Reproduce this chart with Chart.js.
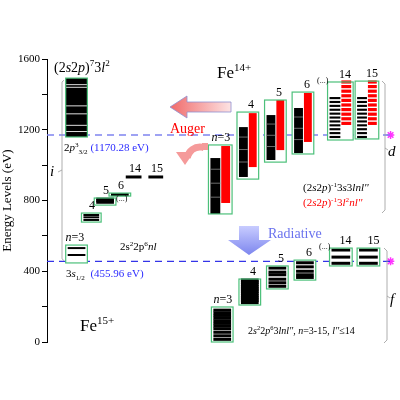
<!DOCTYPE html>
<html><head><meta charset="utf-8">
<script src="https://cdn.jsdelivr.net/npm/chart.js@4.4.1/dist/chart.umd.min.js"></script>
<style>html,body{margin:0;background:#fff}#wrap{width:400px;height:400px}</style>
</head><body><div id="wrap"><canvas id="c"></canvas></div>
<script>
// y ticks
const yTicks = [0, 400, 800, 1200, 1600];
const augerThreshold = 1170.28;
const radThreshold = 455.96;

// Fe15+ initial levels: [x0, x1, lo, hi]
const fe15Labels = ['n=3', '4', '5', '6', '14', '15'];
const fe15Boxes = [[66, 88, 447, 548], [82, 102, 678, 729], [95, 117, 774, 814], [110, 132, 825, 842]];
const fe15Lines = [[492, 531], [690, 705, 718], [790, 800, 808], [833], [933], [933]];
const fe15LineX = [[66, 88], [82, 102], [95, 117], [110, 132], [125, 145], [148, 167]];
const coreBox = [66, 88, 1159, 1492];
const coreGaps = [1455, 1440, 1335, 1290, 1225, 1190];

// Fe14+ doubly excited: box, black band, red band
const fe14Labels = ['n=3', '4', '5', '6', '14', '15'];
const fe14Boxes = [[211, 235, 724, 1114], [240, 262, 921, 1300], [268, 290, 1017, 1368], [296, 318, 1063, 1413], [332, 358, 1142, 1470], [360, 384, 1148, 1475]];
const fe14Black = [[724, 1040], [933, 1215], [1029, 1283], [1068, 1323], [1153, 1385], [1153, 1385]];
const fe14Red = [[786, 1108], [989, 1294], [1085, 1368], [1131, 1408], [1227, 1470], [1227, 1470]];
const fe14Striped = [false, false, false, false, true, true];

// Fe15+ after radiative decay
const radLabels = ['n=3', '4', '5', '6', '14', '15'];
const radBoxes = [[214, 236, 0, 198], [242, 264, 209, 356], [270, 292, 300, 430], [298, 320, 350, 463], [334, 357, 430, 531], [362, 385, 430, 531]];
const radLines = [
  [15, 35, 55, 75, 90, 105, 120, 135, 150, 165, 180],
  [225, 238, 250, 262, 275, 288, 300, 312, 325, 338, 348],
  [315, 335, 355, 380, 395, 418],
  [365, 380, 400, 425, 448],
  [445, 480, 520],
  [445, 480, 520]
];

const GREEN = '#4cc07a', SERIF = '"Liberation Serif", "DejaVu Serif", serif';

function rich(ctx, x, y, segs, size, color) {
  let cx = x;
  ctx.textAlign = 'left';
  for (const s of segs) {
    const fs = s.sup || s.sub ? size * 0.65 : size;
    ctx.font = (s.i ? 'italic ' : '') + fs + 'px ' + SERIF;
    ctx.fillStyle = s.c || color || '#000';
    const dy = s.sup ? -size * 0.4 : s.sub ? size * 0.25 : 0;
    ctx.fillText(s.t, cx, y + dy);
    cx += ctx.measureText(s.t).width;
  }
}
function T(t, o) { return Object.assign({t}, o || {}); }

const diagram = {
  id: 'diagram',
  afterDatasetsDraw(chart) {
    const {ctx, scales: {x, y}} = chart;
    const X = v => x.getPixelForValue(v), Y = v => y.getPixelForValue(v);
    const rect = (x0, x1, lo, hi, fill) => { ctx.fillStyle = fill; ctx.fillRect(X(x0), Y(hi), X(x1) - X(x0), Y(lo) - Y(hi)); };
    const frame = (b) => { ctx.strokeStyle = GREEN; ctx.lineWidth = 1.2; ctx.strokeRect(X(b[0]), Y(b[3]), X(b[1]) - X(b[0]), Y(b[2]) - Y(b[3])); };
    const hline = (x0, x1, e, col, w) => { ctx.strokeStyle = col; ctx.lineWidth = w; ctx.beginPath(); ctx.moveTo(X(x0), Y(e)); ctx.lineTo(X(x1), Y(e)); ctx.stroke(); };
    ctx.save();
    ctx.textBaseline = 'alphabetic';

    // core-excited box
    rect(coreBox[0], coreBox[1], coreBox[2], coreBox[3], '#000');
    coreGaps.forEach(e => hline(coreBox[0], coreBox[1], e, '#ddd', 1));
    frame(coreBox);

    // Fe15+ initial
    fe15Boxes.forEach(b => { rect(b[0], b[1], b[2], b[3], '#fff'); });
    fe15Lines.forEach((ls, i) => ls.forEach(e => hline(fe15LineX[i][0] + 2, fe15LineX[i][1] - 2, e, '#000', i >= 2 ? 3 : 2)));
    fe15Boxes.forEach(frame);

    // Fe14+
    fe14Boxes.forEach((b, i) => {
      const mid = (b[0] + b[1]) / 2;
      rect(b[0], b[1], b[2], b[3], '#fff');
      if (fe14Striped[i]) {
        for (let e = fe14Black[i][0]; e < fe14Black[i][1]; e += 22) rect(b[0] + 2, mid, e, e + 12, '#000');
        for (let e = fe14Red[i][0]; e < fe14Red[i][1]; e += 26) rect(mid + 1, b[1] - 2, e, e + 18, '#f00');
      } else {
        rect(b[0] + 2, mid, fe14Black[i][0], fe14Black[i][1], '#000');
        rect(mid + 1, b[1] - 2, fe14Red[i][0], fe14Red[i][1], '#f00');
        [0.3, 0.55, 0.8].forEach(f => hline(b[0] + 2, mid, fe14Black[i][0] + f * (fe14Black[i][1] - fe14Black[i][0]), '#888', 0.8));
      }
      frame(b);
    });

    // radiative
    radBoxes.forEach((b, i) => {
      rect(b[0], b[1], b[2], b[3], '#fff');
      radLines[i].forEach(e => hline(b[0] + 2, b[1] - 2, e, '#000', i === 1 ? 4 : 3));
      frame(b);
    });

    // level labels
    const lab = (t, cx, e, size) => {
      size = size || 12;
      if (t === 'n=3') { rich(ctx, cx - size * 0.95, Y(e) - 4, [T('n', {i: 1}), T('=3')], size); }
      else { ctx.font = size + 'px ' + SERIF; ctx.fillStyle = '#000'; ctx.textAlign = 'center'; ctx.fillText(t, cx, Y(e) - 4); ctx.textAlign = 'left'; }
    };
    fe15Boxes.forEach((b, i) => lab(fe15Labels[i], (b[0] + b[1]) / 2, b[3], 12));
    lab('14', 135, 933 + 4, 12); lab('15', 157, 933 + 4, 12);
    ctx.font = '8px ' + SERIF; ctx.fillStyle = '#000'; ctx.fillText('(...)', 116, Y(842) + 8);
    fe14Boxes.forEach((b, i) => lab(fe14Labels[i], (b[0] + b[1]) / 2, b[3], 12));
    radBoxes.forEach((b, i) => lab(radLabels[i], (b[0] + b[1]) / 2, b[3], 12));
    ctx.font = '8px ' + SERIF; ctx.fillStyle = '#000'; ctx.fillText('(...)', 317, Y(1470) + 1); ctx.fillText('(...)', 319, Y(531) + 1);

    // texts
    rich(ctx, 54, 72, [T('(2'), T('s', {i: 1}), T('2'), T('p', {i: 1}), T(')'), T('7', {sup: 1}), T('3'), T('l', {i: 1}), T('2', {sup: 1})], 14);
    rich(ctx, 64, 151, [T('2'), T('p', {i: 1}), T('3', {sup: 1}), T('3/2', {sub: 1}), T(' (1170.28 eV)', {c: '#2c2cff'})], 11);
    rich(ctx, 66, 277, [T('3'), T('s', {i: 1}), T('1/2', {sub: 1}), T('  (455.96 eV)', {c: '#2c2cff'})], 11);
    rich(ctx, 120, 250, [T('2s'), T('2', {sup: 1}), T('2p'), T('6', {sup: 1}), T('nl', {i: 1})], 11);
    rich(ctx, 217, 78, [T('Fe'), T('14+', {sup: 1})], 17);
    rich(ctx, 80, 331, [T('Fe'), T('15+', {sup: 1})], 17);
    rich(ctx, 303, 191, [T('(2'), T('s', {i: 1}), T('2'), T('p', {i: 1}), T(')'), T('-1', {sup: 1}), T('3'), T('s', {i: 1}), T('3'), T('lnl\'\'', {i: 1})], 11);
    rich(ctx, 303, 206, [T('(2'), T('s', {i: 1}), T('2'), T('p', {i: 1}), T(')'), T('-1', {sup: 1}), T('3'), T('l', {i: 1}), T('2', {sup: 1}), T('nl\'\'', {i: 1})], 11, '#f00');
    rich(ctx, 248, 334, [T('2'), T('s', {i: 1}), T('2', {sup: 1}), T('2'), T('p', {i: 1}), T('6', {sup: 1}), T('3'), T('lnl\'\'', {i: 1}), T(', '), T('n', {i: 1}), T('=3-15, '), T('l\'\'', {i: 1}), T('\u226414')], 10);
    rich(ctx, 50, 176, [T('i', {i: 1})], 15);
    rich(ctx, 388, 156, [T('d', {i: 1})], 15);
    rich(ctx, 390, 304, [T('f', {i: 1})], 15);

    // brackets
    ctx.strokeStyle = '#999'; ctx.lineWidth = 0.8;
    ctx.beginPath(); ctx.moveTo(64, Y(1480)); ctx.lineTo(62, Y(1470)); ctx.lineTo(62, Y(470)); ctx.lineTo(64, Y(460)); ctx.moveTo(62, 170); ctx.lineTo(58, 172); ctx.stroke();
    ctx.beginPath(); ctx.moveTo(382, 81); ctx.lineTo(385, 84); ctx.lineTo(385, 210); ctx.lineTo(382, 213); ctx.moveTo(385, 148); ctx.lineTo(388, 150); ctx.stroke();
    ctx.beginPath(); ctx.moveTo(384, 248); ctx.lineTo(387, 251); ctx.lineTo(387, 340); ctx.lineTo(384, 343); ctx.moveTo(387, 296); ctx.lineTo(390, 298); ctx.stroke();

    // Auger arrow
    let g = ctx.createLinearGradient(170, 0, 231, 0);
    g.addColorStop(0, '#f06a6a'); g.addColorStop(1, '#fde3e3');
    ctx.fillStyle = g; ctx.strokeStyle = '#9090d0'; ctx.lineWidth = 0.8;
    ctx.beginPath(); ctx.moveTo(170, 107); ctx.lineTo(187, 96); ctx.lineTo(187, 102); ctx.lineTo(231, 102); ctx.lineTo(231, 112); ctx.lineTo(187, 112); ctx.lineTo(187, 118); ctx.closePath(); ctx.fill(); ctx.stroke();
    ctx.font = '14px ' + SERIF; ctx.fillStyle = '#f00'; ctx.fillText('Auger', 170, 133);
    // curved arrow
    ctx.strokeStyle = '#f59a9a'; ctx.lineWidth = 7;
    ctx.beginPath(); ctx.arc(200, 160, 13, Math.PI * 1.05, Math.PI * 1.6); ctx.stroke();
    ctx.fillStyle = '#f59a9a';
    ctx.beginPath(); ctx.moveTo(176, 152); ctx.lineTo(194, 152); ctx.lineTo(185, 165); ctx.closePath(); ctx.fill();
    ctx.fillRect(202, 143, 6, 7);
    // radiative arrow
    g = ctx.createLinearGradient(0, 226, 0, 255);
    g.addColorStop(0, '#c8ccff'); g.addColorStop(1, '#7d86ee');
    ctx.fillStyle = g;
    ctx.beginPath(); ctx.moveTo(239, 226); ctx.lineTo(259, 226); ctx.lineTo(259, 240); ctx.lineTo(271, 240); ctx.lineTo(249, 255); ctx.lineTo(228, 240); ctx.lineTo(239, 240); ctx.closePath(); ctx.fill();
    ctx.font = '14px ' + SERIF; ctx.fillStyle = '#6a72ee'; ctx.fillText('Radiative', 268, 238);
    ctx.restore();
  }
};

new Chart(document.getElementById('c'), {
  type: 'line',
  data: {
    datasets: [
      {data: [{x: 47, y: augerThreshold}, {x: 396, y: augerThreshold}], borderColor: '#7f84f0', borderDash: [7, 5], borderWidth: 1.5, pointRadius: 0},
      {data: [{x: 47, y: radThreshold}, {x: 396, y: radThreshold}], borderColor: '#3434e8', borderDash: [7, 5], borderWidth: 1.2, pointRadius: 0},
      {data: [{x: 396, y: augerThreshold}, {x: 396, y: radThreshold}], showLine: false, pointStyle: 'star', pointRadius: 4, borderColor: '#ff33ff', borderWidth: 1.5}
    ]
  },
  options: {
    responsive: true, maintainAspectRatio: false, animation: false,
    layout: {padding: {top: 59, bottom: 58, left: 0, right: 0}},
    plugins: {legend: {display: false}, tooltip: {enabled: false}},
    scales: {
      x: {type: 'linear', min: 47, max: 400, display: false},
      y: {
        min: 0, max: 1600,
        afterFit: s => { s.width = 47; },
        afterBuildTicks: s => { s.ticks = [0, 200, 400, 600, 800, 1000, 1200, 1400, 1600].map(v => ({value: v})); },
        ticks: {color: '#000', font: {family: SERIF, size: 11}, padding: 2, callback: v => yTicks.includes(v) ? v : ''},
        grid: {drawOnChartArea: false, tickLength: 5, color: '#000'},
        border: {color: '#000', width: 1},
        title: {display: true, text: 'Energy Levels (eV)', color: '#000', font: {family: SERIF, size: 13}, padding: 0}
      }
    }
  },
  plugins: [diagram]
});
</script></body></html>
